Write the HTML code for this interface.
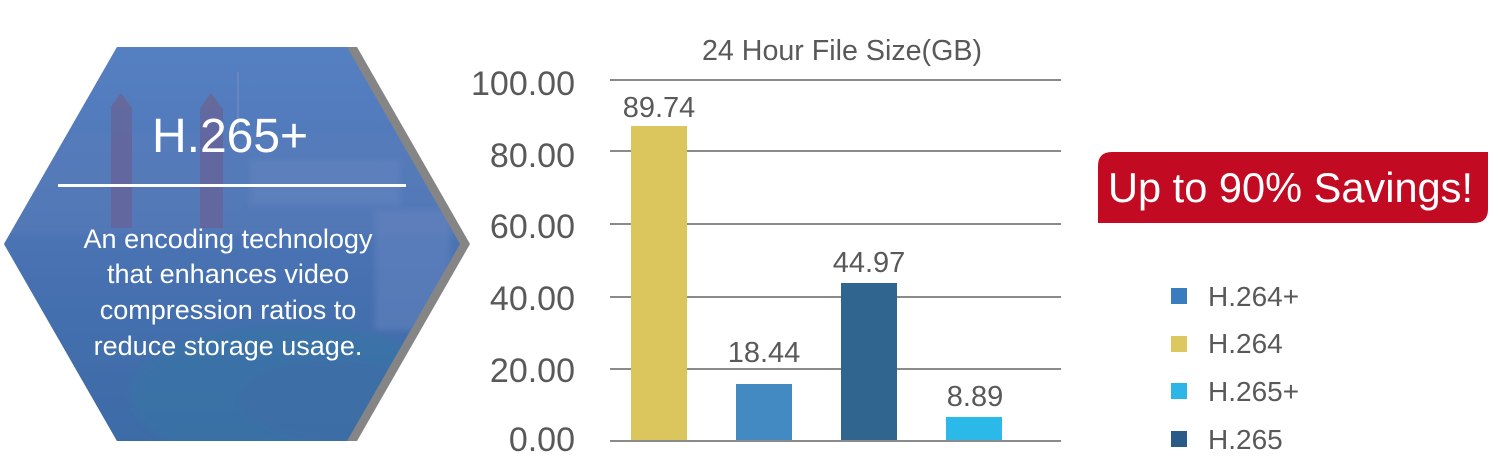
<!DOCTYPE html>
<html>
<head>
<meta charset="utf-8">
<style>
html,body{margin:0;padding:0;background:#ffffff;}
svg{display:block;}
text{font-family:"Liberation Sans",sans-serif;}
</style>
</head>
<body>
<svg width="1500" height="461" viewBox="0 0 1500 461" xmlns="http://www.w3.org/2000/svg">
  <defs>
    <clipPath id="hex">
      <polygon points="117,47 347,47 460,244 347,441 117,441 4,244"/>
    </clipPath>
    <linearGradient id="bg" x1="0" y1="0" x2="0" y2="1">
      <stop offset="0" stop-color="#5580c2"/>
      <stop offset="0.3" stop-color="#5079ba"/>
      <stop offset="0.6" stop-color="#4670b0"/>
      <stop offset="1" stop-color="#3c6ba6"/>
    </linearGradient>
    <filter id="blur" x="-10%" y="-10%" width="120%" height="120%">
      <feGaussianBlur stdDeviation="3"/>
    </filter>
  </defs>

  <rect x="0" y="0" width="1500" height="461" fill="#ffffff"/>

  <!-- Hexagon shadow -->
  <polygon points="117,47 357,47 470,244 357,441 117,441 4,244" fill="#858585"/>

  <!-- Hexagon photo-ish fill -->
  <g clip-path="url(#hex)">
    <rect x="0" y="40" width="470" height="410" fill="url(#bg)"/>
    <g filter="url(#blur)">
      <rect x="0" y="135" width="470" height="100" fill="#5a7cb7" opacity="0.45"/>
      <rect x="250" y="160" width="150" height="45" fill="#6d8cc4" opacity="0.35"/>
      <rect x="375" y="210" width="75" height="120" fill="#6a88c2" opacity="0.45"/>
      <ellipse cx="290" cy="395" rx="160" ry="70" fill="#3675a4" opacity="0.55"/>
      <ellipse cx="330" cy="400" rx="90" ry="40" fill="#3f6ca6" opacity="0.5"/>
    </g>
    <!-- towers -->
    <polygon points="110,108 121,93 132,108" fill="#66699c"/>
    <rect x="111" y="108" width="21" height="120" fill="#64669c" opacity="0.9"/>
    <polygon points="200,108 211,93 222,108" fill="#66699c"/>
    <rect x="200" y="108" width="23" height="120" fill="#64669c" opacity="0.9"/>
    <rect x="237" y="72" width="2" height="58" fill="#6a86bf"/>
  </g>

  <!-- Hexagon text -->
  <text x="230" y="152" font-size="48" fill="#ffffff" text-anchor="middle">H.265+</text>
  <rect x="58" y="184" width="348" height="3" fill="#ffffff"/>
  <g font-size="27" fill="#ffffff" text-anchor="middle">
    <text x="228" y="248" textLength="289" lengthAdjust="spacingAndGlyphs">An encoding technology</text>
    <text x="228" y="283" textLength="242" lengthAdjust="spacingAndGlyphs">that enhances video</text>
    <text x="228" y="319">compression ratios to</text>
    <text x="228" y="355">reduce storage usage.</text>
  </g>

  <!-- Chart title -->
  <text x="842" y="60" font-size="29" fill="#595959" text-anchor="middle" textLength="280" lengthAdjust="spacingAndGlyphs">24 Hour File Size(GB)</text>

  <!-- Gridlines -->
  <g fill="#8a8a8a">
    <rect x="610" y="79" width="451" height="2"/>
    <rect x="610" y="150" width="451" height="2"/>
    <rect x="610" y="223" width="451" height="2"/>
    <rect x="610" y="296" width="451" height="2"/>
    <rect x="610" y="368" width="451" height="2"/>
    <rect x="610" y="440" width="451" height="2"/>
  </g>

  <!-- Y axis labels -->
  <g font-size="34" fill="#595959" text-anchor="end">
    <text x="575" y="95">100.00</text>
    <text x="575" y="167">80.00</text>
    <text x="575" y="238">60.00</text>
    <text x="575" y="310">40.00</text>
    <text x="575" y="382">20.00</text>
    <text x="575" y="451">0.00</text>
  </g>

  <!-- Bars -->
  <rect x="631" y="126" width="56" height="314" fill="#dbc65e"/>
  <rect x="736" y="384" width="56" height="56" fill="#448ac2"/>
  <rect x="841" y="283" width="56" height="157" fill="#30658f"/>
  <rect x="946" y="417" width="56" height="23" fill="#2bb9ea"/>

  <!-- Bar labels -->
  <g font-size="29" fill="#595959" text-anchor="middle">
    <text x="659" y="117">89.74</text>
    <text x="764" y="362">18.44</text>
    <text x="869" y="272">44.97</text>
    <text x="975" y="406">8.89</text>
  </g>

  <!-- Red badge -->
  <path d="M1112,152 H1488 V209 Q1488,223 1474,223 H1098 V166 Q1098,152 1112,152 Z" fill="#c20b22"/>
  <text x="1108" y="202" font-size="42" fill="#ffffff" textLength="365" lengthAdjust="spacingAndGlyphs">Up to 90% Savings!</text>

  <!-- Legend -->
  <rect x="1171" y="288" width="16" height="16" fill="#3a7dbf"/>
  <rect x="1171" y="336" width="16" height="16" fill="#dcc85f"/>
  <rect x="1171" y="383" width="16" height="16" fill="#2db5e8"/>
  <rect x="1171" y="431" width="16" height="16" fill="#2a5a88"/>
  <g font-size="28" fill="#595959">
    <text x="1208" y="306">H.264+</text>
    <text x="1208" y="353">H.264</text>
    <text x="1208" y="401">H.265+</text>
    <text x="1208" y="449">H.265</text>
  </g>
</svg>
</body>
</html>
